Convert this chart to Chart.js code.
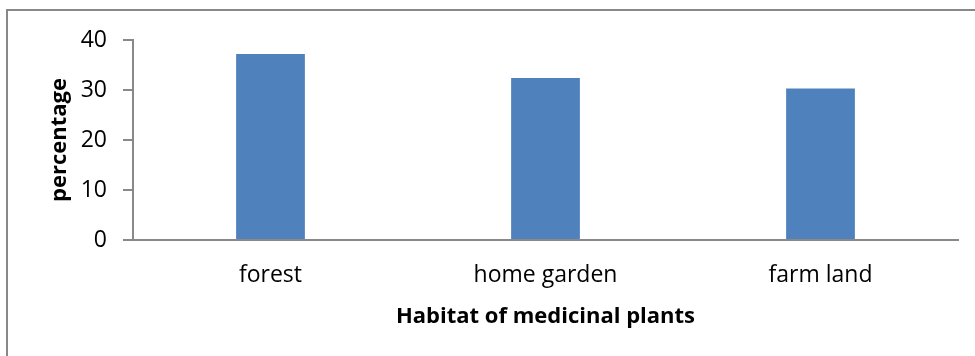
<!DOCTYPE html>
<html>
<head>
<meta charset="utf-8">
<script src="https://cdn.jsdelivr.net/npm/chart.js@4"></script>
<style>
    body { margin: 0; background: #fff; overflow: hidden; }
    #wrap { position: relative; width: 975px; height: 356px; }
    #frame { position: absolute; left: 6px; top: 9px; width: 1200px; height: 600px;
             border-top: 2px solid #888; border-left: 2px solid #888; }
    #chart { position: absolute; left: 0; top: 0; }
</style>
</head>
<body>
<div id="wrap">
    <div id="frame"></div>
    <canvas id="chart" width="975" height="356"></canvas>
</div>
<script>
const habitats = ['forest', 'home garden', 'farm land']
const percentages = [37.2, 32.4, 30.3]
const yTicks = [0, 10, 20, 30, 40]

const axisGrey = '#898989'
const fontFamily = "'Open Sans', sans-serif"

const ctx = document.getElementById('chart')
const myChart = new Chart(ctx, {
    type: 'bar',
    data: {
        labels: habitats,
        datasets: [{
            data: percentages,
            backgroundColor: '#4f81bd',
            borderWidth: 0,
            categoryPercentage: 1,
            barPercentage: 0.25
        }]
    },
    options: {
        responsive: false,
        animation: false,
        events: [],
        layout: { padding: { top: 40, right: 17, left: 0, bottom: 0 } },
        plugins: { legend: { display: false }, tooltip: { enabled: false } },
        scales: {
            x: {
                grid: { display: false, drawTicks: false },
                border: { display: true, color: axisGrey, width: 2 },
                ticks: { color: '#000', padding: 22, font: { family: fontFamily, size: 23 } },
                title: {
                    display: true,
                    text: 'Habitat of medicinal plants',
                    color: '#000',
                    padding: { top: 0, bottom: 26 },
                    font: { family: fontFamily, size: 22, weight: 'bold' }
                },
                afterFit: (scale) => { scale.height = 116 }
            },
            y: {
                min: 0,
                max: 40,
                afterBuildTicks: (scale) => { scale.ticks = yTicks.map(v => ({ value: v })) },
                grid: { drawOnChartArea: false, drawTicks: true, tickLength: 10, color: axisGrey, lineWidth: 2 },
                border: { display: true, color: axisGrey, width: 2 },
                ticks: { color: '#000', padding: 16, font: { family: fontFamily, size: 23 } },
                title: {
                    display: true,
                    text: 'percentage',
                    color: '#000',
                    padding: { top: 47, bottom: 0 },
                    font: { family: fontFamily, size: 22, weight: 'bold' }
                },
                afterFit: (scale) => { scale.width = 133 }
            }
        }
    }
})
</script>
</body>
</html>
